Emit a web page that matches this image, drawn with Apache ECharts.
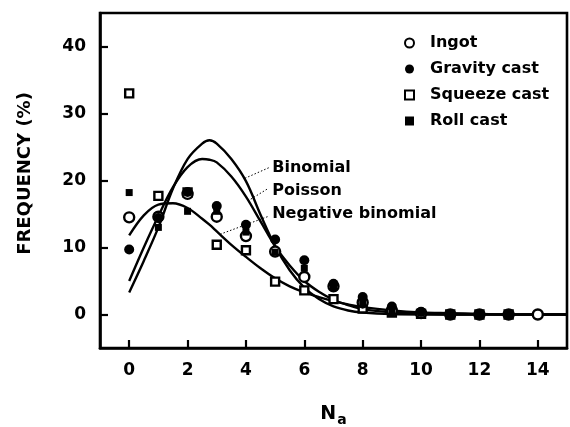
<!DOCTYPE html>
<html>
<head>
<meta charset="utf-8">
<script src="https://cdn.jsdelivr.net/npm/echarts@6/dist/echarts.min.js"></script>
<style>
  html, body { margin: 0; padding: 0; background: #fff; }
  #chart { width: 570px; height: 427px; }
</style>
</head>
<body>
<div id="chart"></div>
<script>
// Number of grains per field (N_a)
const nValues = [0, 1, 2, 3, 4, 5, 6, 7, 8, 9, 10, 11, 12, 13, 14];
const fitN = [0, 0.5, 1, 1.5, 2, 2.5, 2.75, 3, 3.5, 4, 4.5, 5, 5.5, 6, 6.5, 7, 7.5, 8, 9, 10, 11, 12, 13, 14, 15];

// Measured frequencies (%)
const ingot       = [14.5, 14.6, 18.0, 14.6, 11.7, 9.4, 5.6, 4.2, 1.8, 0.6, 0.2, 0, 0, 0, 0];
const gravityCast = [9.7, 14.4, 18.3, 16.2, 13.4, 11.2, 8.1, 4.6, 2.6, 1.2, 0.4, 0, 0, 0, null];
const squeezeCast = [33.0, 17.7, 18.2, 10.4, 9.6, 4.9, 3.6, 2.3, 0.9, 0.3, 0.1, 0, 0, 0, null];
const rollCast    = [18.2, 13.0, 15.4, 15.4, 12.3, 9.3, 6.9, 4.0, 1.6, 0.4, 0.2, 0, 0, 0, null];

// Fitted distributions (%), sampled along fitN
const binomialFit    = [3.3, 8.0, 13.0, 18.8, 23.2, 25.5, 26.0, 25.5, 23.2, 19.9, 14.9, 10.2, 6.6, 4.0, 2.3, 1.2, 0.6, 0.3, 0.05, 0, 0, 0, 0, 0, 0];
const poissonFit     = [5.0, 10.0, 14.7, 19.0, 22.0, 23.2, 23.1, 22.7, 20.6, 17.6, 13.9, 10.2, 7.3, 5.0, 3.4, 2.2, 1.4, 0.8, 0.3, 0.1, 0, 0, 0, 0, 0];
const negBinomialFit = [11.8, 14.8, 16.4, 16.6, 15.9, 14.3, 13.4, 12.4, 10.4, 8.6, 6.9, 5.4, 4.2, 3.3, 2.6, 2.0, 1.5, 1.1, 0.6, 0.3, 0.2, 0.1, 0, 0, 0];

// Axis ticks
const xTicks = [0, 2, 4, 6, 8, 10, 12, 14];
const yTicks = [0, 10, 20, 30, 40];

const FONT = 'DejaVu Sans';
const pairs = (xs, ys) => xs.map((x, i) => [x, ys[i]]);

const chart = echarts.init(document.getElementById('chart'), null, { renderer: 'canvas' });

function fitLine(name, values) {
  return {
    name, type: 'line', data: pairs(fitN, values),
    smooth: 0.35, showSymbol: false, silent: true,
    lineStyle: { color: '#000', width: 2.4 }, z: 2
  };
}

function points(name, values, symbol, size, fill) {
  return {
    name, type: 'scatter', data: pairs(nValues, values),
    symbol, symbolSize: size,
    itemStyle: { color: fill, borderColor: '#000', borderWidth: fill === '#fff' ? 2.4 : 0, opacity: 1 },
    z: 3
  };
}

chart.setOption({
  backgroundColor: '#fff',
  animation: false,
  textStyle: { fontFamily: FONT },
  grid: {
    left: 100, right: 3, top: 13, bottom: 79,
    containLabel: false, outerBoundsMode: 'none',
    show: true, borderColor: '#000', borderWidth: 2.6, backgroundColor: 'transparent'
  },
  xAxis: {
    type: 'value', min: -1, max: 15,
    name: '{n|N}{s|a}', nameLocation: 'middle', nameGap: 54,
    nameTextStyle: {
      rich: {
        n: { fontFamily: FONT, fontSize: 19, fontWeight: 'bold', color: '#000' },
        s: { fontFamily: FONT, fontSize: 14, fontWeight: 'bold', color: '#000', padding: [11, 0, 0, 1] }
      }
    },
    axisLine: { show: true, onZero: false, lineStyle: { color: '#000', width: 2.6 } },
    axisTick: { show: true, inside: true, length: 8, customValues: xTicks, lineStyle: { color: '#000', width: 2.2 } },
    axisLabel: { customValues: xTicks, margin: 14, color: '#000', fontFamily: FONT, fontSize: 17, fontWeight: 'bold' },
    splitLine: { show: false }
  },
  yAxis: {
    type: 'value', min: -5, max: 45,
    name: 'FREQUENCY (%)', nameLocation: 'middle', nameGap: 66,
    nameTextStyle: { color: '#000', fontFamily: FONT, fontSize: 18, fontWeight: 'bold', padding: [0, 0, 0, 14] },
    axisLine: { show: true, onZero: false, lineStyle: { color: '#000', width: 2.6 } },
    axisTick: { show: true, inside: true, length: 8, customValues: yTicks, lineStyle: { color: '#000', width: 2.2 } },
    axisLabel: { customValues: yTicks, margin: 14, color: '#000', fontFamily: FONT, fontSize: 17, fontWeight: 'bold' },
    splitLine: { show: false }
  },
  legend: {
    orient: 'vertical', left: 399, top: 30,
    itemWidth: 9, itemHeight: 9, itemGap: 10,
    data: ['Ingot', 'Gravity cast', 'Squeeze cast', 'Roll cast'],
    textStyle: { color: '#000', fontFamily: FONT, fontSize: 16, fontWeight: 'bold', padding: [0, 0, 0, 11] }
  },
  series: [
    fitLine('Binomial', binomialFit),
    fitLine('Poisson', poissonFit),
    fitLine('Negative binomial', negBinomialFit),
    points('Squeeze cast', squeezeCast, 'rect', 8, '#fff'),
    points('Ingot', ingot, 'circle', 10, '#fff'),
    points('Roll cast', rollCast, 'rect', 7, '#000'),
    points('Gravity cast', gravityCast, 'circle', 10, '#000')
  ]
});

// Curve labels with dotted leaders, anchored in data space
const curveNotes = [
  { text: 'Binomial',          label: [4.9, 21.9], from: [4.78, 21.9], to: [3.95, 20.3] },
  { text: 'Poisson',           label: [4.9, 18.5], from: [4.72, 18.7], to: [4.16, 17.2] },
  { text: 'Negative binomial', label: [4.9, 15.0], from: [4.74, 14.6], to: [3.13, 12.0] }
];

const graphics = [];
curveNotes.forEach(n => {
  const p = chart.convertToPixel({ gridIndex: 0 }, n.label);
  const a = chart.convertToPixel({ gridIndex: 0 }, n.from);
  const b = chart.convertToPixel({ gridIndex: 0 }, n.to);
  graphics.push({
    type: 'line', silent: true, z: 10,
    shape: { x1: a[0], y1: a[1], x2: b[0], y2: b[1] },
    style: { stroke: '#000', lineWidth: 1, lineDash: [1.5, 2] }
  });
  graphics.push({
    type: 'text', silent: true, z: 10, x: p[0], y: p[1],
    style: { text: n.text, fill: '#000', font: 'bold 16px "' + FONT + '"', textAlign: 'left', textVerticalAlign: 'middle' }
  });
});
chart.setOption({ graphic: graphics });
</script>
</body>
</html>
